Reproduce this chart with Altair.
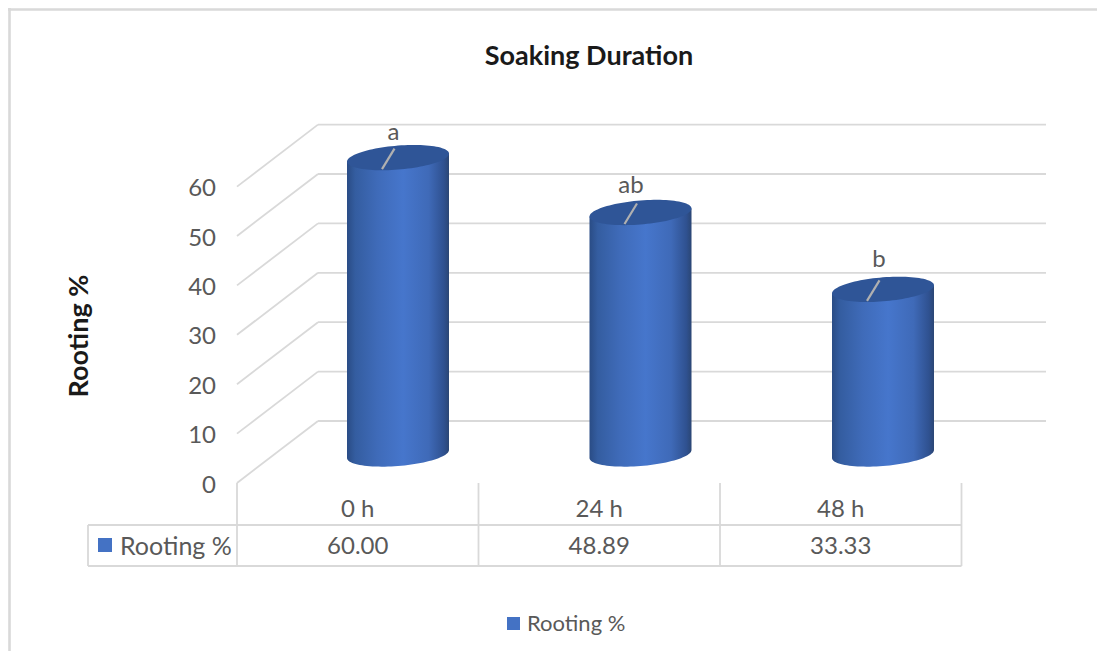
import math
import altair as alt
import pandas as pd

# ---- chart values ----
categories = ["0 h", "24 h", "48 h"]
values = [60.00, 48.89, 33.33]
value_labels = ["60.00", "48.89", "33.33"]
letters = ["a", "ab", "b"]
ticks = [0, 10, 20, 30, 40, 50, 60]
series_name = "Rooting %"
title_text = "Soaking Duration"

# ---- layout (reference pixel geometry mapped into scale units) ----
W, H = 1089, 643
COL_PX, UNIT_PX = 241.5, 4.94
X0_PX, Y0_PX = 237.0, 483.0
def X(px): return (px - X0_PX) / COL_PX
def Y(py): return (Y0_PX - py) / UNIT_PX
def DX(px): return px / COL_PX
def DY(px): return -px / UNIT_PX

x_scale = alt.Scale(domain=[X(8), X(8 + W)], nice=False, zero=False)
y_scale = alt.Scale(domain=[Y(8 + H), Y(8)], nice=False, zero=False)
depth_x, depth_y = DX(81), DY(-62)
base_level = Y(454)
half_w = DX(51)
shear = DY(-4)
minor = DY(-12)
n_cols = len(categories)
TEXT_DY = 1.5

GRID = "#d9d9d9"
TEXT = "#595959"
FONT = "Lato"
BLUE = "#4472c4"


def segs(rows):
    return pd.DataFrame(rows, columns=["x0", "y0", "x1", "y1"])


def rule_layer(rows, color=GRID, width=1.8):
    return alt.Chart(segs(rows)).mark_rule(color=color, strokeWidth=width).encode(
        x=alt.X("x0:Q", scale=x_scale, axis=None),
        x2="x1:Q",
        y=alt.Y("y0:Q", scale=y_scale, axis=None),
        y2="y1:Q",
    )


def text_layer(rows, size, color=TEXT, bold=False, align="center", angle=0, dy=TEXT_DY):
    df = pd.DataFrame(rows, columns=["x", "y", "label"])
    return alt.Chart(df).mark_text(
        font=FONT, fontSize=size, color=color, align=align, baseline="middle",
        fontWeight="bold" if bold else "normal", angle=angle, dy=dy,
    ).encode(
        x=alt.X("x:Q", scale=x_scale, axis=None),
        y=alt.Y("y:Q", scale=y_scale, axis=None),
        text="label:N",
    )


# frame of the picture
frame = rule_layer(
    [(X(9.5), Y(8), X(9.5), Y(8 + H)), (X(8), Y(9.5), X(8 + W), Y(9.5))],
    width=2.6,
)

# floor and walls: oblique gridlines plus back gridlines
grid_rows = []
for t in ticks:
    grid_rows.append((0, t, depth_x, t + depth_y))
    grid_rows.append((depth_x, t + depth_y, X(1046), t + depth_y))
grid = rule_layer(grid_rows)

# data table
tbl_top, tbl_mid, tbl_bot = Y(483), Y(525), Y(566)
tbl_rows = [(X(88), tbl_mid, n_cols, tbl_mid), (X(88), tbl_bot, n_cols, tbl_bot),
            (X(88), tbl_mid, X(88), tbl_bot)]
for i in range(n_cols + 1):
    tbl_rows.append((i, tbl_top, i, tbl_bot))
table = rule_layer(tbl_rows)

# cylinders
first_cx, cx_pitch = X(398), DX(242.5)
body_rows, cap_rows, leader_rows = [], [], []
steps = [math.cos(math.pi * (1 - k / 48)) for k in range(49)]
for i, (c, v) in enumerate(zip(categories, values)):
    cx = first_cx + i * cx_pitch
    top = base_level + v
    for s in steps:
        r = math.sqrt(max(0, 1 - s * s))
        body_rows.append(dict(cat=c, x=cx + s * half_w,
                              y=top + shear * s,
                              y2=base_level + shear * s - minor * r))
        cap_rows.append(dict(cat=c, x=cx + s * half_w,
                             y=top + shear * s + minor * r,
                             y2=top + shear * s - minor * r))
    leader_rows.append((cx + DX(-16), top + DY(11.5), cx + DX(-3.5), top + DY(-9)))

body_grad = alt.Gradient(
    gradient="linear", x1=0, x2=1, y1=0, y2=0,
    stops=[
        alt.GradientStop(offset=0, color="#2a4c85"),
        alt.GradientStop(offset=0.08, color="#345da0"),
        alt.GradientStop(offset=0.3, color="#3f6bb9"),
        alt.GradientStop(offset=0.55, color="#4676cc"),
        alt.GradientStop(offset=0.8, color="#3f6ab8"),
        alt.GradientStop(offset=0.95, color="#2f5190"),
        alt.GradientStop(offset=1, color="#2b4674"),
    ],
)
body = alt.Chart(pd.DataFrame(body_rows)).mark_area(color=body_grad, interpolate="linear").encode(
    x=alt.X("x:Q", scale=x_scale, axis=None),
    y=alt.Y("y:Q", scale=y_scale, axis=None),
    y2="y2:Q",
    detail="cat:N",
)
cap = alt.Chart(pd.DataFrame(cap_rows)).mark_area(color="#2f5597", interpolate="linear").encode(
    x=alt.X("x:Q", scale=x_scale, axis=None),
    y=alt.Y("y:Q", scale=y_scale, axis=None),
    y2="y2:Q",
    detail="cat:N",
)
leaders = rule_layer(leader_rows, color="#b0b0b0", width=2.2)

# letters over the cylinders
letter_off = [(-4.5, -26.5), (-9.5, -27.5), (-4, -30.5)]
letter_rows = []
for i, (l, v) in enumerate(zip(letters, values)):
    cx = first_cx + i * cx_pitch
    letter_rows.append((cx + DX(letter_off[i][0]), base_level + v + DY(letter_off[i][1]), l))
letter_text = text_layer(letter_rows, 24)

tick_text = text_layer([(X(216), t + DY(1), str(t)) for t in ticks], 24, align="right")
cat_text = text_layer([(i + 0.5, Y(508), c) for i, c in enumerate(categories)], 24)
val_text = text_layer([(i + 0.5, Y(545), s) for i, s in enumerate(value_labels)], 24)
series_text = text_layer([(X(120), Y(545), series_name)], 25, align="left")
legend_text = text_layer([(X(527), Y(623), series_name)], 22, align="left", dy=0.5)
title = text_layer([(X(589), Y(55), title_text)], 27, color="#1a1a1a", bold=True)
y_title = text_layer([(X(80), Y(336), series_name)], 27, color="#1a1a1a", bold=True, angle=270, dy=0)

# legend keys
keys = pd.DataFrame([(X(98), Y(552), X(112), Y(538)), (X(507), Y(630), X(520), Y(617))],
                    columns=["x0", "y0", "x1", "y1"])
key_marks = alt.Chart(keys).mark_rect(color=BLUE).encode(
    x=alt.X("x0:Q", scale=x_scale, axis=None), x2="x1:Q",
    y=alt.Y("y0:Q", scale=y_scale, axis=None), y2="y1:Q",
)

chart = alt.layer(
    frame, grid, table, body, cap, leaders, letter_text, tick_text, cat_text,
    val_text, key_marks, series_text, legend_text, title, y_title,
).properties(
    width=W, height=H, padding=0, background="white",
    autosize=alt.AutoSizeParams(type="none"),
).configure_view(stroke=None)

chart.save("out.html", embed_options={"renderer": "svg", "actions": False})
